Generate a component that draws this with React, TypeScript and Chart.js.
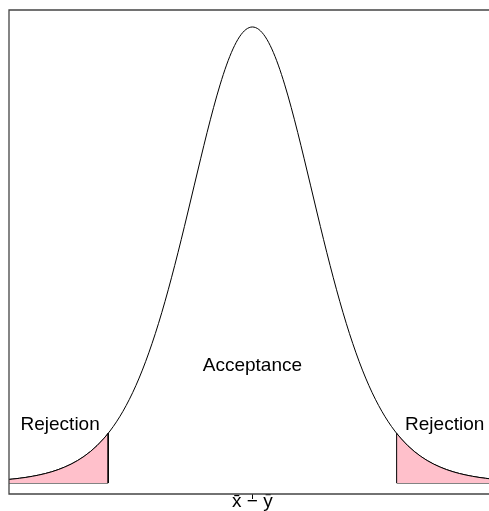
import React, { useEffect, useRef } from "react";
import { Chart, registerables } from "chart.js";

Chart.register(...registerables);

// Density curve (Student-t shaped bell, peak at 0)
const curveX = [
  -3.8, -3.7, -3.6, -3.5, -3.4, -3.3, -3.2, -3.1, -3.0, -2.9, -2.8, -2.7, -2.6,
  -2.5, -2.4, -2.3, -2.2, -2.1, -2.0, -1.9, -1.8, -1.7, -1.6, -1.5, -1.4, -1.3,
  -1.2, -1.1, -1.0, -0.9, -0.8, -0.7, -0.6, -0.5, -0.4, -0.3, -0.2, -0.1, 0.0,
  0.1, 0.2, 0.3, 0.4, 0.5, 0.6, 0.7, 0.8, 0.9, 1.0, 1.1, 1.2, 1.3, 1.4, 1.5,
  1.6, 1.7, 1.8, 1.9, 2.0, 2.1, 2.2, 2.3, 2.4, 2.5, 2.6, 2.7, 2.8, 2.9, 3.0,
  3.1, 3.2, 3.3, 3.4, 3.5, 3.6, 3.7, 3.8,
];
const curveY = [
  0.00285, 0.00339, 0.00402, 0.00478, 0.00569, 0.00677, 0.00805, 0.00958,
  0.0114, 0.01357, 0.01613, 0.01916, 0.02273, 0.02695, 0.03188, 0.03766,
  0.04438, 0.05217, 0.06115, 0.07142, 0.08312, 0.09632, 0.11109, 0.12745,
  0.1454, 0.16486, 0.18567, 0.20762, 0.23037, 0.25353, 0.27662, 0.2991,
  0.32033, 0.3397, 0.35658, 0.3704, 0.38066, 0.38698, 0.38911, 0.38698,
  0.38066, 0.3704, 0.35658, 0.3397, 0.32033, 0.2991, 0.27662, 0.25353,
  0.23037, 0.20762, 0.18567, 0.16486, 0.1454, 0.12745, 0.11109, 0.09632,
  0.08312, 0.07142, 0.06115, 0.05217, 0.04438, 0.03766, 0.03188, 0.02695,
  0.02273, 0.01916, 0.01613, 0.01357, 0.0114, 0.00958, 0.00805, 0.00677,
  0.00569, 0.00478, 0.00402, 0.00339, 0.00285,
];

// Rejection regions (tails beyond the critical values)
const leftTailX = [
  -3.8, -3.7, -3.6, -3.5, -3.4, -3.3, -3.2, -3.1, -3.0, -2.9, -2.8, -2.7, -2.6,
  -2.5, -2.4, -2.3, -2.228, -2.228,
];
const leftTailY = [
  0.00285, 0.00339, 0.00402, 0.00478, 0.00569, 0.00677, 0.00805, 0.00958,
  0.0114, 0.01357, 0.01613, 0.01916, 0.02273, 0.02695, 0.03188, 0.03766,
  0.0424, 0,
];
const rightTailX = [
  2.228, 2.228, 2.3, 2.4, 2.5, 2.6, 2.7, 2.8, 2.9, 3.0, 3.1, 3.2, 3.3, 3.4,
  3.5, 3.6, 3.7, 3.8,
];
const rightTailY = [
  0, 0.0424, 0.03766, 0.03188, 0.02695, 0.02273, 0.01916, 0.01613, 0.01357,
  0.0114, 0.00958, 0.00805, 0.00677, 0.00569, 0.00478, 0.00402, 0.00339,
  0.00285,
];
const leftBaseX = [-3.8, -2.228];
const rightBaseX = [2.228, 3.8];

const axisTickValues = [0];
const axisTickLabels = ["x\u0304 \u2212 y\u0304"];

const regionLabels = ["Rejection", "Acceptance", "Rejection"];
const regionLabelX = [-2.97, 0, 2.97];
const regionLabelY = [0.0452, 0.0956, 0.0452];

const FONT = '"Liberation Sans", Arial, Helvetica, sans-serif';

const toPts = (xs: number[], ys: number[]) => xs.map((x, i) => ({ x, y: ys[i] }));

const overlayPlugin = {
  id: "overlay",
  afterDatasetsDraw(chart: any) {
    const { ctx, chartArea: a, scales } = chart;
    const xs = scales.x;
    const ys = scales.y;
    ctx.save();
    ctx.strokeStyle = "#444";
    ctx.lineWidth = 1.3;
    ctx.beginPath();
    ctx.moveTo(a.right + 2, a.top);
    ctx.lineTo(a.left, a.top);
    ctx.lineTo(a.left, a.bottom);
    ctx.lineTo(a.right + 2, a.bottom);
    ctx.stroke();
    ctx.fillStyle = "#000";
    ctx.font = `19px ${FONT}`;
    ctx.textAlign = "center";
    ctx.textBaseline = "alphabetic";
    regionLabels.forEach((t, i) => {
      ctx.fillText(t, xs.getPixelForValue(regionLabelX[i]), ys.getPixelForValue(regionLabelY[i]));
    });
    ctx.restore();
  },
};

export default function App() {
  const ref = useRef<HTMLCanvasElement | null>(null);
  useEffect(() => {
    if (!ref.current) return;
    const chart = new Chart(ref.current, {
      type: "line",
      data: {
        datasets: [
          { data: toPts(leftTailX, leftTailY), borderColor: "#000", borderWidth: 1, backgroundColor: "#FFC0CB", fill: "origin", pointRadius: 0, tension: 0 },
          { data: toPts(rightTailX, rightTailY), borderColor: "#000", borderWidth: 1, backgroundColor: "#FFC0CB", fill: "origin", pointRadius: 0, tension: 0 },
          { data: toPts(leftBaseX, [0, 0]), borderColor: "#000", borderWidth: 1, fill: false, pointRadius: 0 },
          { data: toPts(rightBaseX, [0, 0]), borderColor: "#000", borderWidth: 1, fill: false, pointRadius: 0 },
          { data: toPts(curveX, curveY), borderColor: "#000", borderWidth: 1, fill: false, pointRadius: 0, cubicInterpolationMode: "monotone" },
        ],
      },
      options: {
        animation: false,
        responsive: false,
        events: [],
        layout: { padding: { left: 9, top: 10, right: 0, bottom: 0 }, autoPadding: false },
        plugins: { legend: { display: false }, tooltip: { enabled: false } },
        scales: {
          x: {
            type: "linear",
            min: -3.76,
            max: 3.655,
            border: { display: false },
            grid: { display: true, drawOnChartArea: false, drawTicks: true, tickLength: 5, color: "#000", lineWidth: 1 },
            afterBuildTicks: (axis: any) => {
              axis.ticks = axisTickValues.map((v) => ({ value: v }));
            },
            afterFit: (axis: any) => {
              axis.height = 17;
            },
            ticks: {
              padding: -7,
              color: "#000",
              maxRotation: 0,
              font: { family: FONT, size: 19, lineHeight: 1 },
              callback: (v: any) => {
                const i = axisTickValues.indexOf(Number(v));
                return i >= 0 ? axisTickLabels[i] : "";
              },
            },
          },
          y: { type: "linear", display: false, min: -0.00939, max: 0.4036 },
        },
      },
      plugins: [overlayPlugin],
    } as any);
    return () => chart.destroy();
  }, []);
  return (
    <div style={{ position: "fixed", left: 0, top: 0, width: 489, height: 511, overflow: "hidden", background: "#fff" }}>
      <canvas ref={ref} width={489} height={511} style={{ display: "block" }} />
    </div>
  );
}
